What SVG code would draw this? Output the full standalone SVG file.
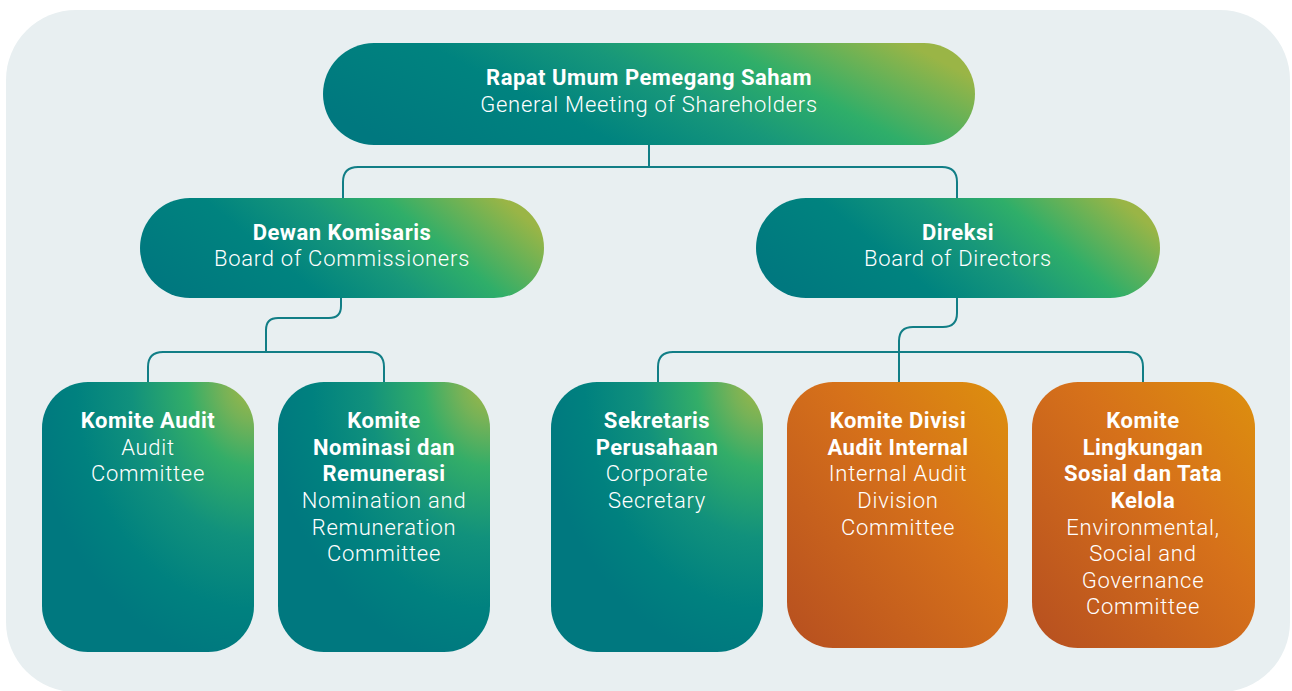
<svg xmlns="http://www.w3.org/2000/svg" width="1292" height="691" viewBox="0 0 1292 691">
<defs>
<linearGradient id="gPill" x1="0" y1="0.65" x2="1" y2="0.35">
<stop offset="0" stop-color="#00787f"/>
<stop offset="0.32" stop-color="#00837f"/>
<stop offset="0.54" stop-color="#17977a"/>
<stop offset="0.73" stop-color="#2fae69"/>
<stop offset="1" stop-color="#9ab546"/>
</linearGradient>
<radialGradient id="gBox" cx="1" cy="0" r="1.05">
<stop offset="0" stop-color="#a6b844"/>
<stop offset="0.14" stop-color="#76b257"/>
<stop offset="0.3" stop-color="#33ad68"/>
<stop offset="0.55" stop-color="#11917c"/>
<stop offset="0.8" stop-color="#00817f"/>
<stop offset="1" stop-color="#00787f"/>
</radialGradient>
<linearGradient id="gOrange" x1="1" y1="0" x2="0" y2="1">
<stop offset="0" stop-color="#dd900e"/>
<stop offset="0.4" stop-color="#d6711a"/>
<stop offset="1" stop-color="#b64f20"/>
</linearGradient>
<style>
.b{font-family:Roboto,"Liberation Sans",sans-serif;font-weight:700;font-size:22px;letter-spacing:0.5px;fill:#ffffff;text-anchor:middle}
.l{font-family:Roboto,"Liberation Sans",sans-serif;font-weight:300;font-size:22px;letter-spacing:0.75px;fill:#ffffff;text-anchor:middle}
.c{fill:none;stroke:#117e86;stroke-width:2}
</style>
</defs>
<rect x="6" y="10" width="1284" height="682" rx="70" fill="#e8eff1"/>
<g id="connectors">
<path class="c" d="M649,145 V167"/>
<path class="c" d="M343,198 V182 Q343,167 358,167 H942 Q957,167 957,182 V198"/>
<path class="c" d="M341,298 V306 Q341,318 329,318 H278 Q266,318 266,330 V352"/>
<path class="c" d="M148,382 V367 Q148,352 163,352 H369 Q384,352 384,367 V382"/>
<path class="c" d="M957,298 V313 Q957,327 943,327 H913 Q899,327 899,341 V382"/>
<path class="c" d="M658,382 V367 Q658,352 673,352 H1128 Q1143,352 1143,367 V382"/>
</g>
<g id="rups">
<rect x="323" y="43" width="652" height="102" rx="51" fill="url(#gPill)"/>
<text class="b" x="649" y="85">Rapat Umum Pemegang Saham</text>
<text class="l" x="649" y="112">General Meeting of Shareholders</text>
</g>
<g id="dewan">
<rect x="140" y="198" width="404" height="100" rx="50" fill="url(#gPill)"/>
<text class="b" x="342" y="240">Dewan Komisaris</text>
<text class="l" x="342" y="266">Board of Commissioners</text>
</g>
<g id="direksi">
<rect x="756" y="198" width="404" height="100" rx="50" fill="url(#gPill)"/>
<text class="b" x="958" y="240">Direksi</text>
<text class="l" x="958" y="266">Board of Directors</text>
</g>
<g id="audit">
<rect x="42" y="382" width="212" height="270" rx="46" fill="url(#gBox)"/>
<text class="b" x="148" y="428">Komite Audit</text>
<text class="l" x="148" y="455">Audit</text>
<text class="l" x="148" y="481">Committee</text>
</g>
<g id="nominasi">
<rect x="278" y="382" width="212" height="270" rx="46" fill="url(#gBox)"/>
<text class="b" x="384" y="428">Komite</text>
<text class="b" x="384" y="455">Nominasi dan</text>
<text class="b" x="384" y="481">Remunerasi</text>
<text class="l" x="384" y="508">Nomination and</text>
<text class="l" x="384" y="535">Remuneration</text>
<text class="l" x="384" y="561">Committee</text>
</g>
<g id="sekretaris">
<rect x="551" y="382" width="212" height="270" rx="46" fill="url(#gBox)"/>
<text class="b" x="657" y="428">Sekretaris</text>
<text class="b" x="657" y="455">Perusahaan</text>
<text class="l" x="657" y="481">Corporate</text>
<text class="l" x="657" y="508">Secretary</text>
</g>
<g id="divisi">
<rect x="787" y="382" width="221" height="266" rx="46" fill="url(#gOrange)"/>
<text class="b" x="898" y="428">Komite Divisi</text>
<text class="b" x="898" y="455">Audit Internal</text>
<text class="l" x="898" y="481">Internal Audit</text>
<text class="l" x="898" y="508">Division</text>
<text class="l" x="898" y="535">Committee</text>
</g>
<g id="lingkungan">
<rect x="1032" y="382" width="223" height="266" rx="46" fill="url(#gOrange)"/>
<text class="b" x="1143" y="428">Komite</text>
<text class="b" x="1143" y="455">Lingkungan</text>
<text class="b" x="1143" y="481">Sosial dan Tata</text>
<text class="b" x="1143" y="508">Kelola</text>
<text class="l" x="1143" y="535">Environmental,</text>
<text class="l" x="1143" y="561">Social and</text>
<text class="l" x="1143" y="588">Governance</text>
<text class="l" x="1143" y="614">Committee</text>
</g>
</svg>
